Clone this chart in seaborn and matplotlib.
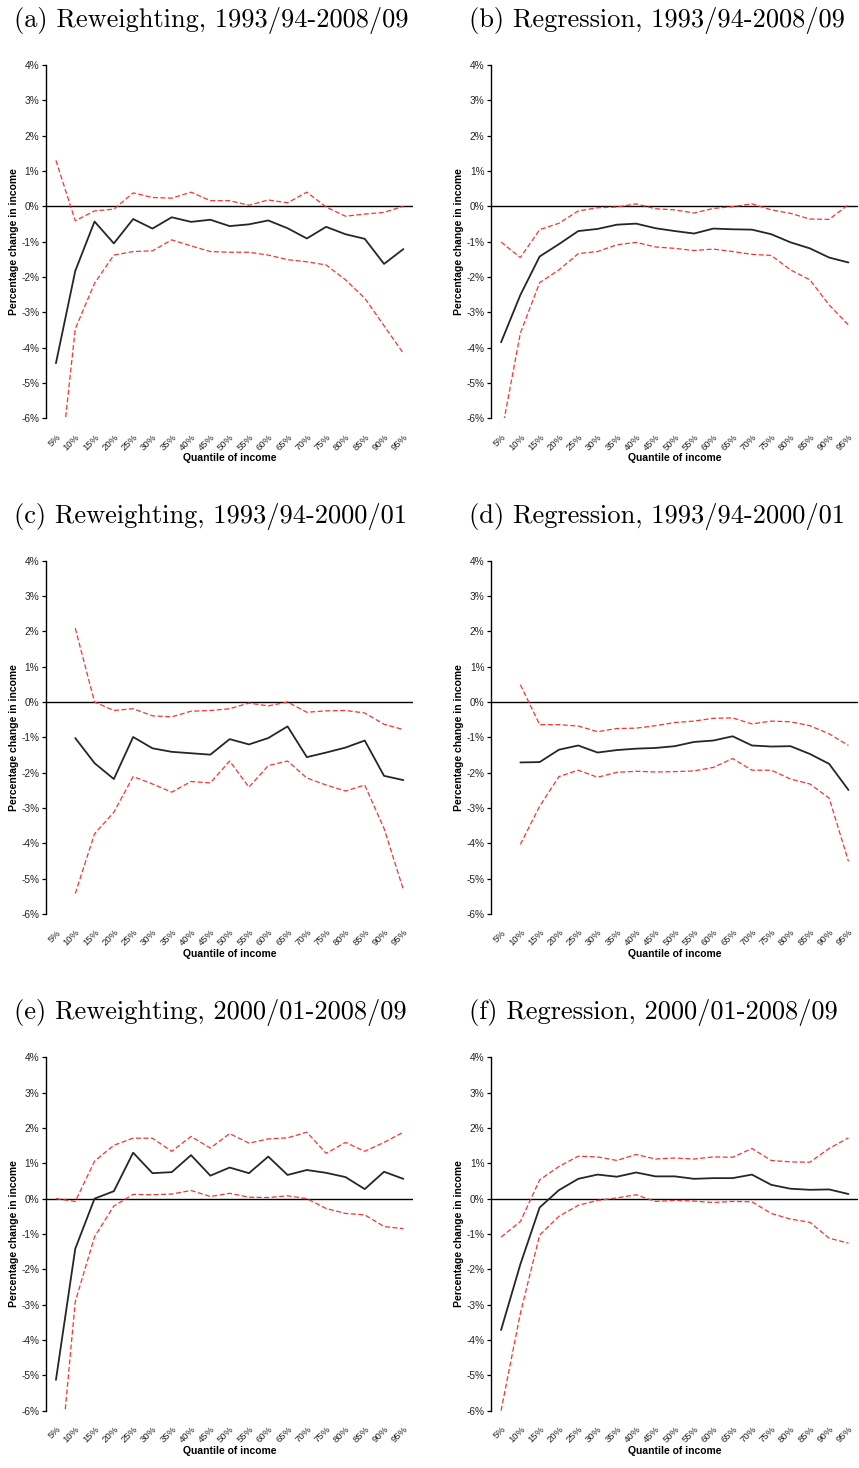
import numpy as np
import pandas as pd
import matplotlib
matplotlib.use("Agg")
import matplotlib.pyplot as plt
import seaborn as sns

nan = np.nan

quantiles = [f"{q}%" for q in range(5, 100, 5)]
ytick_vals = list(range(-6, 5))
ytick_labels = [f"{v}%" for v in ytick_vals]

titles = [
    "(a) Reweighting, 1993/94-2008/09",
    "(b) Regression, 1993/94-2008/09",
    "(c) Reweighting, 1993/94-2000/01",
    "(d) Regression, 1993/94-2000/01",
    "(e) Reweighting, 2000/01-2008/09",
    "(f) Regression, 2000/01-2008/09",
]

# (a) Reweighting 1993/94-2008/09
a_est = [-4.44, -1.83, -0.43, -1.05, -0.36, -0.63, -0.31, -0.44, -0.38, -0.56,
         -0.51, -0.40, -0.62, -0.91, -0.58, -0.79, -0.92, -1.63, -1.21]
a_up = [1.30, -0.41, -0.13, -0.08, 0.38, 0.25, 0.23, 0.40, 0.16, 0.16,
        0.03, 0.18, 0.10, 0.40, -0.02, -0.28, -0.22, -0.17, 0.00]
a_lo = [-8.5, -3.47, -2.18, -1.38, -1.28, -1.26, -0.95, -1.12, -1.28, -1.30,
        -1.30, -1.38, -1.51, -1.57, -1.66, -2.08, -2.60, -3.38, -4.16]

# (b) Regression 1993/94-2008/09
b_est = [-3.85, -2.51, -1.42, -1.07, -0.70, -0.64, -0.52, -0.49, -0.62, -0.70,
         -0.77, -0.63, -0.65, -0.66, -0.79, -1.02, -1.19, -1.45, -1.59]
b_up = [-1.01, -1.45, -0.66, -0.48, -0.13, -0.04, -0.02, 0.07, -0.07, -0.10,
        -0.19, -0.06, -0.01, 0.07, -0.10, -0.20, -0.36, -0.37, 0.05]
b_lo = [-6.5, -3.59, -2.16, -1.80, -1.34, -1.28, -1.09, -1.02, -1.15, -1.19,
        -1.25, -1.21, -1.28, -1.36, -1.39, -1.80, -2.08, -2.79, -3.36]

# (c) Reweighting 1993/94-2000/01
c_est = [nan, -1.02, -1.73, -2.18, -0.99, -1.31, -1.41, -1.45, -1.49, -1.05,
         -1.20, -1.02, -0.69, -1.56, -1.43, -1.29, -1.09, -2.09, -2.21]
c_up = [nan, 2.09, 0.00, -0.24, -0.19, -0.39, -0.42, -0.26, -0.24, -0.19,
        -0.03, -0.11, 0.00, -0.29, -0.25, -0.24, -0.31, -0.63, -0.78]
c_lo = [nan, -5.42, -3.73, -3.12, -2.11, -2.32, -2.55, -2.25, -2.29, -1.67,
        -2.41, -1.80, -1.67, -2.15, -2.35, -2.52, -2.35, -3.58, -5.31]

# (d) Regression 1993/94-2000/01
d_est = [nan, -1.71, -1.70, -1.35, -1.23, -1.43, -1.36, -1.32, -1.30, -1.25,
         -1.13, -1.09, -0.97, -1.23, -1.26, -1.25, -1.47, -1.75, -2.49]
d_up = [nan, 0.49, -0.64, -0.64, -0.68, -0.84, -0.75, -0.74, -0.67, -0.58,
        -0.54, -0.46, -0.45, -0.62, -0.54, -0.56, -0.67, -0.90, -1.23]
d_lo = [nan, -4.03, -2.95, -2.11, -1.93, -2.13, -1.99, -1.96, -1.98, -1.97,
        -1.95, -1.85, -1.60, -1.93, -1.93, -2.18, -2.32, -2.72, -4.51]

# (e) Reweighting 2000/01-2008/09
e_est = [-5.13, -1.42, 0.00, 0.21, 1.30, 0.72, 0.75, 1.23, 0.65, 0.88,
         0.72, 1.19, 0.67, 0.81, 0.73, 0.61, 0.27, 0.76, 0.56]
e_up = [0.00, -0.08, 1.06, 1.51, 1.71, 1.71, 1.34, 1.76, 1.43, 1.84,
        1.57, 1.69, 1.72, 1.88, 1.28, 1.59, 1.34, 1.59, 1.88]
e_lo = [-8.8, -2.92, -1.08, -0.21, 0.12, 0.11, 0.13, 0.23, 0.06, 0.15,
        0.04, 0.03, 0.08, 0.00, -0.28, -0.42, -0.46, -0.79, -0.85]

# (f) Regression 2000/01-2008/09
f_est = [-3.72, -1.86, -0.25, 0.24, 0.56, 0.68, 0.62, 0.74, 0.63, 0.63,
         0.56, 0.58, 0.58, 0.68, 0.39, 0.28, 0.25, 0.26, 0.13]
f_up = [-1.09, -0.65, 0.53, 0.91, 1.20, 1.18, 1.08, 1.25, 1.12, 1.15,
        1.12, 1.18, 1.17, 1.42, 1.08, 1.04, 1.03, 1.42, 1.72]
f_lo = [-6.0, -3.25, -1.03, -0.50, -0.19, -0.05, 0.02, 0.11, -0.08, -0.05,
        -0.07, -0.11, -0.08, -0.09, -0.42, -0.58, -0.67, -1.12, -1.26]

panels = [
    (a_est, a_up, a_lo), (b_est, b_up, b_lo),
    (c_est, c_up, c_lo), (d_est, d_up, d_lo),
    (e_est, e_up, e_lo), (f_est, f_up, f_lo),
]

sns.set_theme(style="white")
plt.rcParams["font.family"] = ["Liberation Sans", "DejaVu Sans"]

W, H = 859, 1468
fig = plt.figure(figsize=(W / 100, H / 100), dpi=100)

col_left = [46.3, 491.4]
ax_w = 366.7
row_top = [65.0, 560.7, 1057.3]
ax_h = 353.3
title_x = [14, 469]
title_base = [27, 523, 1019]

for i, (est, up, lo) in enumerate(panels):
    r, c = divmod(i, 2)
    left = col_left[c] / W
    bottom = 1 - (row_top[r] + ax_h) / H
    ax = fig.add_axes([left, bottom, ax_w / W, ax_h / H])
    df = pd.DataFrame({"pos": np.arange(len(quantiles)), "est": est, "up": up, "lo": lo})
    ax.axhline(0, color="black", lw=1.0, zorder=1)
    for col in ["up", "lo"]:
        sub = df[["pos", col]].dropna()
        sns.lineplot(data=sub, x="pos", y=col, ax=ax, color="#ff3030", lw=0.9,
                     linestyle=(0, (4, 2)), estimator=None, zorder=2)
    sub = df[["pos", "est"]].dropna()
    sns.lineplot(data=sub, x="pos", y="est", ax=ax, color="#262626", lw=1.3,
                 estimator=None, zorder=3)

    ax.set_xlim(-0.5, len(quantiles) - 0.5)
    ax.set_ylim(-6, 4)
    ax.set_yticks(ytick_vals)
    ax.set_yticklabels(ytick_labels, fontsize=7.3, color="#222222")
    ax.set_xticks(np.arange(len(quantiles)))
    ax.set_xticklabels(quantiles, fontsize=6.8, color="#222222", rotation=45,
                       ha="right", va="top", rotation_mode="anchor")
    ax.tick_params(axis="x", length=0, pad=10)
    ax.tick_params(axis="y", direction="out", length=3, width=0.9, color="black",
                   left=True, pad=2)
    for s in ["top", "right", "bottom"]:
        ax.spines[s].set_visible(False)
    ax.spines["left"].set_color("black")
    ax.spines["left"].set_linewidth(1.0)
    ax.set_xlabel("Quantile of income", fontsize=7.5, fontweight="bold", color="black")
    ax.set_ylabel("Percentage change in income", fontsize=7.5, fontweight="bold", color="black")
    ax.xaxis.set_label_coords(0.5, -35 / ax_h)
    ax.yaxis.set_label_coords(-27 / ax_w, 0.5)
    ax.grid(False)

    fig.text(title_x[c] / W, 1 - title_base[r] / H, titles[i], fontsize=19,
             family="cmr10", ha="left", va="baseline", color="black")

fig.savefig("out.png", dpi=100)
